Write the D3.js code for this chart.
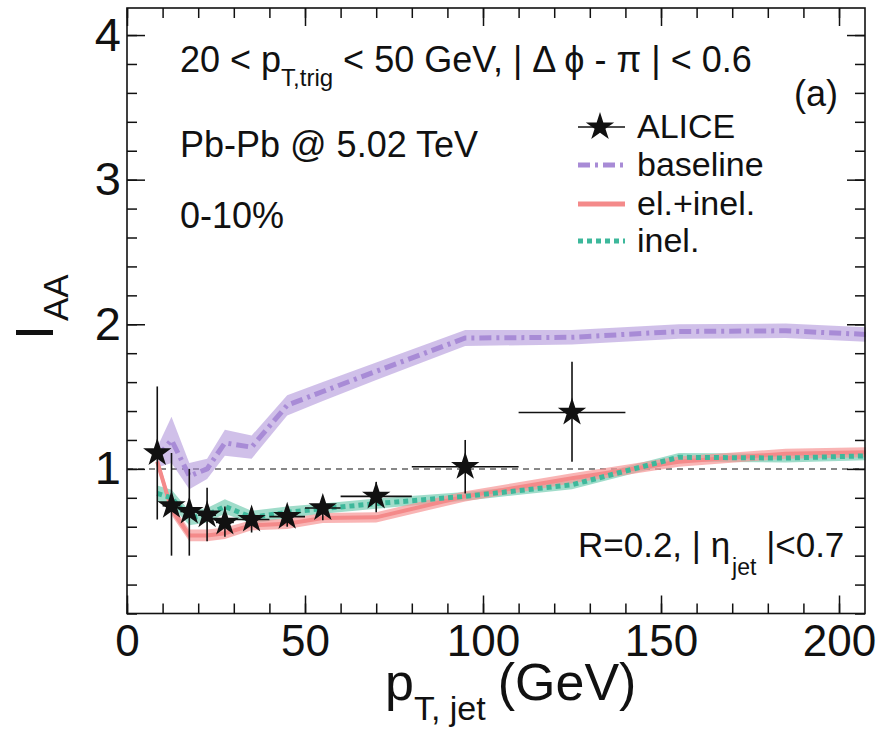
<!DOCTYPE html>
<html>
<head>
<meta charset="utf-8">
<script src="https://cdn.jsdelivr.net/npm/d3@7"></script>
<style>
  body { margin: 0; background: #fff; }
  svg { display: block; font-family: "Liberation Sans", Arial, sans-serif; }
</style>
</head>
<body>
<svg id="chart" width="876" height="734"></svg>
<script>
// ALICE points: bin centres, bin edges, values and error ends
var aliceX = [8.5, 12.5, 17.5, 22.5, 27.5, 35, 45, 55, 70, 95, 125]
  , aliceXLo = [7, 10, 15, 20, 25, 30, 40, 50, 60, 80, 110]
  , aliceXHi = [10, 15, 20, 25, 30, 40, 50, 60, 80, 110, 140]
  , aliceY = [1.11, 0.745, 0.705, 0.68, 0.63, 0.65, 0.67, 0.73, 0.81, 1.015, 1.39]
  , aliceYLo = [0.65, 0.40, 0.40, 0.50, 0.53, 0.56, 0.60, 0.645, 0.70, 0.83, 1.05]
  , aliceYHi = [1.57, 1.11, 1.00, 0.87, 0.74, 0.73, 0.74, 0.805, 0.91, 1.20, 1.74]

// model curves
var modelX = [8.5, 12.5, 17.5, 22.5, 27.5, 35, 45, 55, 70, 95, 125, 155, 185, 207.5]
  , baseline = [1.08, 1.20, 0.95, 1.00, 1.18, 1.15, 1.44, 1.535, 1.675, 1.905, 1.91, 1.95, 1.955, 1.93]
  , baselineErr = [0.07, 0.16, 0.09, 0.07, 0.09, 0.08, 0.07, 0.065, 0.06, 0.055, 0.05, 0.05, 0.05, 0.05]
  , elInel = [1.05, 0.72, 0.54, 0.54, 0.555, 0.61, 0.62, 0.66, 0.665, 0.81, 0.935, 1.05, 1.105, 1.115]
  , elInelErr = [0.04, 0.04, 0.04, 0.04, 0.04, 0.035, 0.035, 0.035, 0.035, 0.035, 0.035, 0.035, 0.035, 0.035]
  , inel = [0.83, 0.80, 0.66, 0.68, 0.74, 0.665, 0.70, 0.725, 0.76, 0.81, 0.89, 1.08, 1.075, 1.09]
  , inelErr = [0.055, 0.055, 0.05, 0.05, 0.05, 0.045, 0.04, 0.035, 0.035, 0.03, 0.03, 0.03, 0.03, 0.03]

var xMajor = [0, 50, 100, 150, 200]
  , yMajor = [1, 2, 3, 4]

var svg = d3.select('#chart')
  , padL = 127, padR = 865, padT = 8, padB = 613.5

var x = d3.scaleLinear().domain([0, 207.3]).range([padL, padR])
  , y = d3.scaleLinear().domain([0, 4.187]).range([padB, padT])

var colors = {
  baseLine: '#a88bd6', baseBand: 'rgba(170,140,215,0.55)',
  redLine: '#f48a8a', redBand: 'rgba(247,150,150,0.7)',
  greenLine: '#3db89b', greenBand: 'rgba(120,205,180,0.7)'
}

function series(vals, errs) {
  return modelX.map(function(px, i) { return { x: px, y: vals[i], e: errs[i] } })
}

var band = d3.area()
  .x(function(d) { return x(d.x) })
  .y0(function(d) { return y(d.y - d.e) })
  .y1(function(d) { return y(d.y + d.e) })
var line = d3.line()
  .x(function(d) { return x(d.x) })
  .y(function(d) { return y(d.y) })

var plot = svg.append('g')

// reference line at 1
plot.append('line')
  .attr('x1', x(0)).attr('x2', x(207.3))
  .attr('y1', y(1)).attr('y2', y(1))
  .attr('stroke', '#888').attr('stroke-width', 2).attr('stroke-dasharray', '6,5')

var baseS = series(baseline, baselineErr)
  , redS = series(elInel, elInelErr)
  , greenS = series(inel, inelErr)

plot.append('path').datum(baseS).attr('d', band).attr('fill', colors.baseBand)
plot.append('path').datum(greenS).attr('d', band).attr('fill', colors.greenBand)
plot.append('path').datum(redS).attr('d', band).attr('fill', colors.redBand)

plot.append('path').datum(baseS).attr('d', line)
  .attr('fill', 'none').attr('stroke', colors.baseLine).attr('stroke-width', 5)
  .attr('stroke-dasharray', '12,5,3,5')
plot.append('path').datum(redS).attr('d', line)
  .attr('fill', 'none').attr('stroke', colors.redLine).attr('stroke-width', 4)
plot.append('path').datum(greenS).attr('d', line)
  .attr('fill', 'none').attr('stroke', colors.greenLine).attr('stroke-width', 5)
  .attr('stroke-dasharray', '5,4')

// ALICE data
var alice = aliceX.map(function(px, i) {
  return { x: px, xl: aliceXLo[i], xh: aliceXHi[i], y: aliceY[i], yl: aliceYLo[i], yh: aliceYHi[i] }
})
var pts = plot.selectAll('g.pt').data(alice).enter().append('g').classed('pt', true)
pts.append('line')
  .attr('x1', function(d) { return x(d.x) }).attr('x2', function(d) { return x(d.x) })
  .attr('y1', function(d) { return y(d.yl) }).attr('y2', function(d) { return y(d.yh) })
  .attr('stroke', '#111').attr('stroke-width', 1.6)
pts.append('line')
  .attr('x1', function(d) { return x(d.xl) }).attr('x2', function(d) { return x(d.xh) })
  .attr('y1', function(d) { return y(d.y) }).attr('y2', function(d) { return y(d.y) })
  .attr('stroke', '#111').attr('stroke-width', 1.6)
var star = d3.symbol().type(d3.symbolStar).size(250)
pts.append('path')
  .attr('d', star)
  .attr('transform', function(d) { return 'translate(' + x(d.x) + ',' + y(d.y) + ')' })
  .attr('fill', '#111')

// axes: ROOT style inward ticks on all four sides
function styleAxis(g) {
  g.select('.domain').remove()
  g.selectAll('line').attr('stroke', '#111').attr('stroke-width', 1.5)
  g.selectAll('text').attr('fill', '#111')
}
var xMinor = d3.range(0, 207.3, 10)
  , yMinor = d3.range(0, 4.187, 0.2)

svg.append('g').attr('transform', 'translate(0,' + padB + ')')
  .call(d3.axisBottom(x).tickValues(xMinor).tickSize(-10).tickFormat('')).call(styleAxis)
svg.append('g').attr('transform', 'translate(0,' + padB + ')')
  .call(d3.axisBottom(x).tickValues(xMajor).tickSize(-18).tickPadding(11).tickFormat(d3.format('d')))
  .call(styleAxis)
  .selectAll('text').style('font-size', '44px')
svg.append('g').attr('transform', 'translate(0,' + padT + ')')
  .call(d3.axisTop(x).tickValues(xMinor).tickSize(-10).tickFormat('')).call(styleAxis)
svg.append('g').attr('transform', 'translate(0,' + padT + ')')
  .call(d3.axisTop(x).tickValues(xMajor).tickSize(-18).tickFormat('')).call(styleAxis)

svg.append('g').attr('transform', 'translate(' + padL + ',0)')
  .call(d3.axisLeft(y).tickValues(yMinor).tickSize(-10).tickFormat('')).call(styleAxis)
svg.append('g').attr('transform', 'translate(' + padL + ',0)')
  .call(d3.axisLeft(y).tickValues(yMajor).tickSize(-18).tickPadding(6).tickFormat(d3.format('d')))
  .call(styleAxis)
  .selectAll('text').style('font-size', '47px')
svg.append('g').attr('transform', 'translate(' + padR + ',0)')
  .call(d3.axisRight(y).tickValues(yMinor).tickSize(-10).tickFormat('')).call(styleAxis)
svg.append('g').attr('transform', 'translate(' + padR + ',0)')
  .call(d3.axisRight(y).tickValues(yMajor).tickSize(-18).tickFormat('')).call(styleAxis)

svg.append('rect')
  .attr('x', padL).attr('y', padT).attr('width', padR - padL).attr('height', padB - padT)
  .attr('fill', 'none').attr('stroke', '#111').attr('stroke-width', 1.6)

// axis titles
var xt = svg.append('text').attr('x', 385).attr('y', 700).attr('fill', '#111').style('font-size', '52px')
xt.append('tspan').text('p')
xt.append('tspan').attr('dy', 20).style('font-size', '34px').text('T, jet')
xt.append('tspan').attr('dy', -20).attr('dx', 12).text('(GeV)')

var yt = svg.append('text').attr('transform', 'translate(53,340) rotate(-90)')
  .attr('fill', '#111').style('font-size', '54px')
yt.append('tspan').text('I')
yt.append('tspan').attr('dy', 15).attr('dx', 4).style('font-size', '35px').text('AA')

// annotations
function label(px, py, size, parts) {
  var t = svg.append('text').attr('x', px).attr('y', py).attr('fill', '#111').style('font-size', size + 'px')
  parts.forEach(function(p) {
    var s = t.append('tspan').text(p.t)
    if (p.sub) s.attr('dy', p.sub).style('font-size', p.size + 'px')
    if (p.dy) s.attr('dy', p.dy)
    if (p.dx) s.attr('dx', p.dx)
  })
  return t
}
label(180, 72, 36, [
  { t: '20 < p' },
  { t: 'T,trig', sub: 14, size: 24 },
  { t: ' < 50 GeV, | Δ ϕ - π | < 0.6', dy: -14 }
])
label(180, 157, 36, [{ t: 'Pb-Pb @ 5.02 TeV' }])
label(180, 228, 36, [{ t: '0-10%' }])
label(794, 106, 36, [{ t: '(a)' }])
label(578, 557, 35, [
  { t: 'R=0.2, | η' },
  { t: 'jet', sub: 18, size: 23, dx: 2 },
  { t: ' |<0.7', dy: -18 }
])

// legend
var legendNames = ['ALICE', 'baseline', 'el.+inel.', 'inel.']
  , legendY = [127, 165, 204, 241]
var lg = svg.append('g')
legendNames.forEach(function(name, i) {
  var ly = legendY[i]
  if (i === 0) {
    lg.append('line').attr('x1', 578).attr('x2', 625).attr('y1', ly).attr('y2', ly)
      .attr('stroke', '#111').attr('stroke-width', 1.6)
    lg.append('path').attr('d', star).attr('transform', 'translate(600,' + ly + ')').attr('fill', '#111')
  } else {
    var st = [null,
      { c: colors.baseLine, w: 5, da: '12,5,3,5' },
      { c: colors.redLine, w: 5, da: null },
      { c: colors.greenLine, w: 5, da: '5,4' }][i]
    lg.append('line').attr('x1', 578).attr('x2', 625).attr('y1', ly).attr('y2', ly)
      .attr('stroke', st.c).attr('stroke-width', st.w).attr('stroke-dasharray', st.da)
  }
  lg.append('text').attr('x', 637).attr('y', ly + 11).attr('fill', '#111')
    .style('font-size', '34px').text(name)
})
</script>
</body>
</html>
